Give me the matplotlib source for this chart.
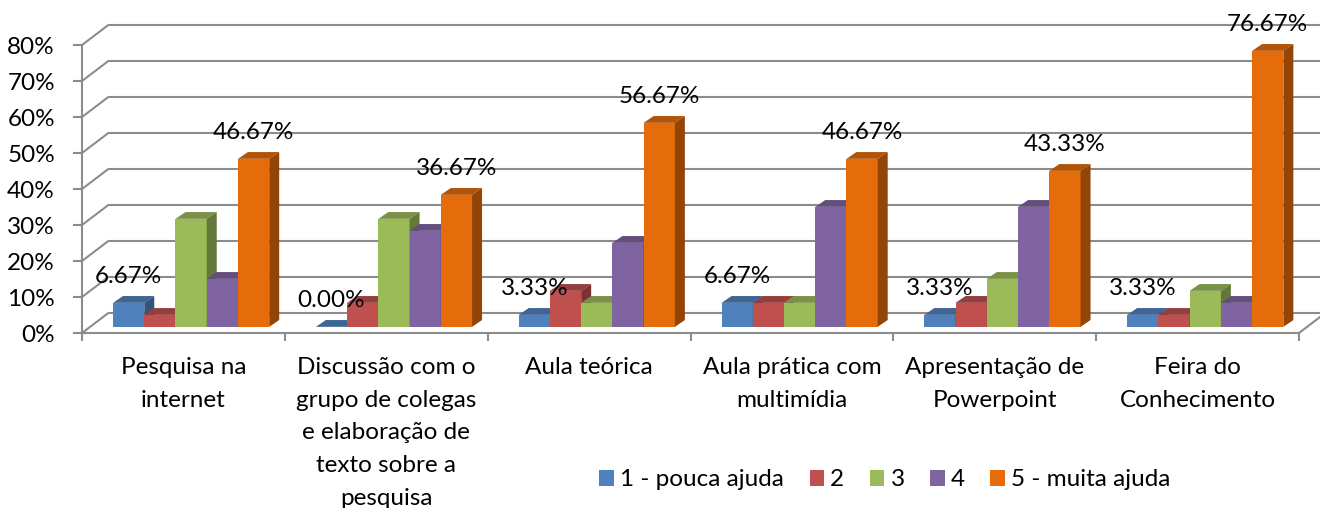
import matplotlib
matplotlib.use('Agg')
import matplotlib.pyplot as plt
from matplotlib.patches import Polygon, Patch
import numpy as np

# ---------------- data ----------------
categories = ["Pesquisa na\ninternet",
              "Discussão com o\ngrupo de colegas\ne elaboração de\ntexto sobre a\npesquisa",
              "Aula teórica",
              "Aula prática com\nmultimídia",
              "Apresentação de\nPowerpoint",
              "Feira do\nConhecimento"]
series_names = ["1 - pouca ajuda", "2", "3", "4", "5 - muita ajuda"]
s1 = [6.67, 0.00, 3.33, 6.67, 3.33, 3.33]
s2 = [3.33, 6.67, 10.00, 6.67, 6.67, 3.33]
s3 = [30.00, 30.00, 6.67, 6.67, 13.33, 10.00]
s4 = [13.33, 26.67, 23.33, 33.33, 33.33, 6.67]
s5 = [46.67, 36.67, 56.67, 46.67, 43.33, 76.67]
series = [s1, s2, s3, s4, s5]
labeled_series = [0, 4]
yticks = [0, 10, 20, 30, 40, 50, 60, 70, 80]
ytick_labels = ["0%", "10%", "20%", "30%", "40%", "50%", "60%", "70%", "80%"]

front_colors = ["#4F81BD", "#C0504D", "#9BBB59", "#8064A2", "#E46C0A"]

# ---------------- style ----------------
FONT = 'Lato'
FS = 17.5
plt.rcParams['font.family'] = [FONT, 'DejaVu Sans']
GRID = '#8c8c8c'
LW = 1.5

W, H, DPI = 1320, 508, 100
fig = plt.figure(figsize=(W / DPI, H / DPI), dpi=DPI)
# front plane: x 0..6 -> px 82..1299, y 0..80 -> px 333..45
ax = fig.add_axes([82 / W, (H - 333) / H, (1299 - 82) / W, (333 - 45) / H])
ncat = len(categories)
ax.set_xlim(0, ncat)
ax.set_ylim(0, 80)
pxx = (1299 - 82) / ncat      # px per x unit
pxy = (333 - 45) / 80         # px per y unit

DX, DY = 27 / pxx, 20.5 / pxy           # wall depth
PX, PY = 0.3 * DX, 0.3 * DY             # bar front plane
BDX, BDY = 10 / pxx, 6.8 / pxy          # bar depth
bw = 0.154
g0 = 0.113

def shade(c, f):
    c = np.array(matplotlib.colors.to_rgb(c))
    return tuple(np.clip(c * f, 0, 1))

# back wall grid lines
for v in yticks:
    ax.plot([0, DX], [v, v + DY], color=GRID, lw=LW, clip_on=False, zorder=1,
            solid_capstyle='butt')
    ax.plot([DX, ncat + DX + 0.1], [v + DY, v + DY], color=GRID, lw=LW,
            clip_on=False, zorder=1, solid_capstyle='butt')
# right floor edge
ax.plot([ncat, ncat + DX], [0, DY], color=GRID, lw=LW, clip_on=False, zorder=1)

# bars
handles = []
for k, vals in enumerate(series):
    vals = np.array(vals)
    x = np.arange(ncat) + PX + g0 + k * bw
    fc = front_colors[k]
    bars = ax.bar(x, vals, width=bw, bottom=PY, align='edge', color=fc,
                  edgecolor='none', clip_on=False, zorder=3 + k,
                  label=series_names[k])
    topc = shade(fc, 0.78)
    sidec = shade(fc, 0.64)
    for xl, v in zip(x, vals):
        xr = xl + bw
        y1 = PY + v
        ax.add_patch(Polygon([(xl, y1), (xl + BDX, y1 + BDY), (xr + BDX, y1 + BDY), (xr, y1)],
                             closed=True, facecolor=topc, edgecolor='none',
                             clip_on=False, zorder=3 + k))
        ax.add_patch(Polygon([(xr, PY), (xr, y1), (xr + BDX, y1 + BDY), (xr + BDX, PY + BDY)],
                             closed=True, facecolor=sidec, edgecolor='none',
                             clip_on=False, zorder=3 + k))
        if k in labeled_series:
            ax.text(xl + bw / 2, y1 + 7.2, f"{v:.2f}%", ha='center', va='center',
                    fontsize=FS, color='black', zorder=20)
    handles.append(Patch(facecolor=fc, edgecolor='none', label=series_names[k]))

# axes / spines
for s in ['top', 'right']:
    ax.spines[s].set_visible(False)
ax.set_facecolor('none')
ax.spines['left'].set_color(GRID)
ax.spines['left'].set_linewidth(LW)
ax.spines['bottom'].set_color(GRID)
ax.spines['bottom'].set_linewidth(LW)
ax.spines['left'].set_zorder(2)
ax.spines['bottom'].set_zorder(2)

ax.set_yticks(yticks, ytick_labels)
ax.tick_params(axis='y', which='major', direction='out', length=6.5, width=LW,
               color=GRID, pad=13, labelsize=FS, labelcolor='black')
ax.set_xticks(np.arange(ncat + 1))
ax.set_xticklabels([''] * (ncat + 1))
ax.tick_params(axis='x', which='major', direction='out', length=5.5, width=LW, color=GRID)
ax.set_xticks(np.arange(ncat) + 0.5, minor=True)
ax.set_xticklabels(categories, minor=True, fontsize=FS, linespacing=1.7)
ax.tick_params(axis='x', which='minor', length=0, pad=17, labelcolor='black')

leg = fig.legend(handles=handles, loc='center', bbox_to_anchor=(885 / W, 1 - 480 / H),
                 ncol=5, frameon=False, fontsize=FS, handlelength=0.6, handleheight=0.6,
                 handletextpad=0.25, columnspacing=1.05, borderpad=0, borderaxespad=0)

fig.savefig('out.png', dpi=DPI, facecolor='white')
